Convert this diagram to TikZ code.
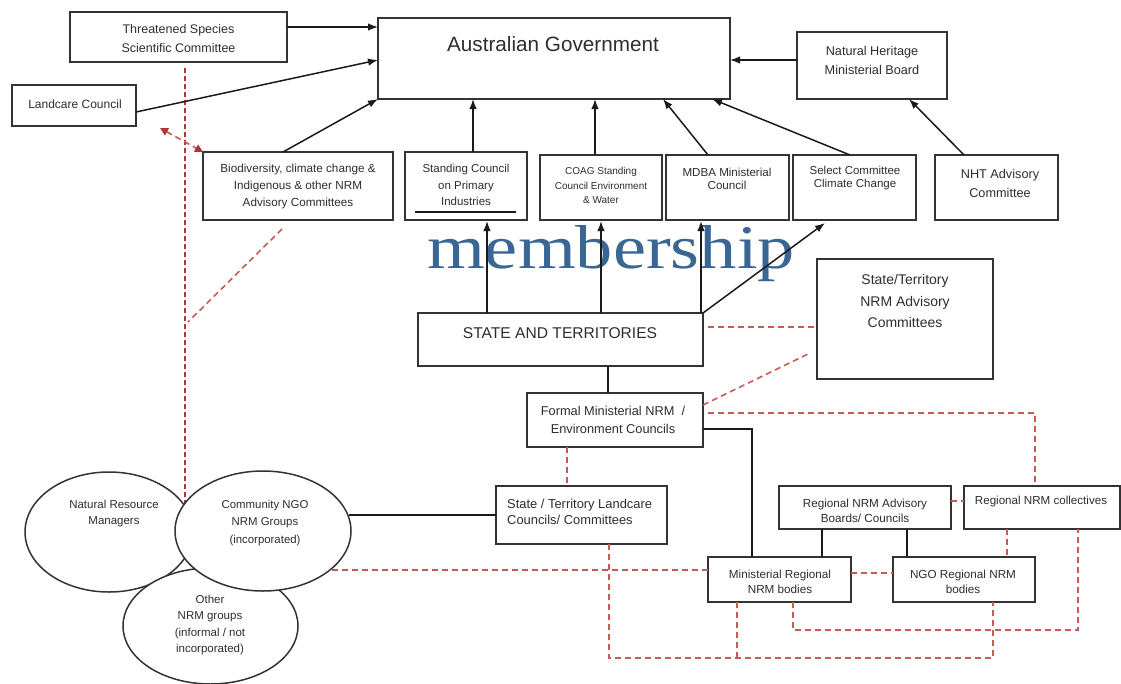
\documentclass[tikz,border=0pt]{standalone}
\usepackage{fontspec}
\setmainfont{Liberation Sans}
\newfontfamily\memfont{Liberation Serif}
\usetikzlibrary{shapes.geometric,arrows.meta,calc}
\definecolor{linec}{HTML}{1A1A1A}
\definecolor{boxc}{HTML}{333333}
\definecolor{txtc}{HTML}{2E2E2E}
\definecolor{redc}{HTML}{C85A55}
\definecolor{redd}{HTML}{B03535}
\definecolor{memblue}{HTML}{3A6694}
\begin{document}
\begin{tikzpicture}[x=1pt,y=-1pt,
  box/.style={draw=boxc, line width=1.6pt, fill=white, inner sep=0pt, outer sep=0pt, anchor=north west},
  ell/.style={ellipse, draw=boxc, line width=1.5pt, fill=white, inner sep=0pt, outer sep=0pt},
  t/.style 2 args={inner sep=0pt, align=center, text=txtc, font=\fontsize{#1}{#2}\selectfont},
  arr/.style={draw=linec, line width=1.5pt, -{Latex[length=10pt,width=7.5pt]}},
  ln/.style={draw=linec, line width=1.5pt},
  rd/.style={draw=redc, line width=1.6pt, dash pattern=on 6pt off 4pt},
  rdv/.style={draw=redd, line width=1.4pt, dash pattern=on 4.5pt off 3.5pt}
]
\useasboundingbox (0,0) rectangle (1121,683);
\fill[white] (0,0) rectangle (1121,683);

% membership label (behind arrows)
\node[inner sep=0pt, anchor=base, text=memblue, font=\memfont\fontsize{62}{62}\selectfont] (memb) at (611,268) {\scalebox{1.2}[1]{membership}};

% boxes
\node[box, minimum width=217pt, minimum height=50pt] (tssc) at (70,12) {};
\node[box, minimum width=124pt, minimum height=41pt] (lcc) at (12,85) {};
\node[box, minimum width=352pt, minimum height=81pt] (ag) at (378,18) {};
\node[box, minimum width=150pt, minimum height=67pt] (nhmb) at (797,32) {};
\node[box, minimum width=190pt, minimum height=68pt] (bio) at (203,152) {};
\node[box, minimum width=122pt, minimum height=68pt] (scpi) at (405,152) {};
\node[box, minimum width=122pt, minimum height=65pt] (coag) at (540,155) {};
\node[box, minimum width=123pt, minimum height=65pt] (mdba) at (666,155) {};
\node[box, minimum width=123pt, minimum height=65pt] (scc) at (793,155) {};
\node[box, minimum width=123pt, minimum height=65pt] (nht) at (935,155) {};
\node[box, minimum width=285pt, minimum height=53pt] (st) at (418,313) {};
\node[box, minimum width=176pt, minimum height=120pt] (stnrm) at (817,259) {};
\node[box, minimum width=176pt, minimum height=54pt] (fm) at (527,393) {};
\node[box, minimum width=171pt, minimum height=58pt] (stl) at (496,486) {};
\node[box, minimum width=172pt, minimum height=43pt] (rnab) at (779,486) {};
\node[box, minimum width=156pt, minimum height=43pt] (rnc) at (964,486) {};
\node[box, minimum width=143pt, minimum height=45pt] (mrb) at (708,557) {};
\node[box, minimum width=142pt, minimum height=45pt] (ngo) at (893,557) {};

% red dashed lines ending on the ellipses (drawn before them)
\draw[rdv] ($(tssc.south)+(6.5,6)$) -- ++(0,435);
\draw[rd] ($(mrb.west)+(0,-9.5)$) -- ++(-378,0);

% ellipses
\node[ell, minimum width=168pt, minimum height=120pt] (nrm) at (109,532) {};
\node[ell, minimum width=175pt, minimum height=116pt] (other) at (210.5,626) {};
\node[ell, minimum width=176pt, minimum height=120pt] (cngo) at (263,531) {};

% texts
\node[t={12.5}{19}] (tssc-t) at (178.5,38.5) {Threatened Species\\Scientific Committee};
\node[t={12}{14}] (lcc-t) at (75,104) {Landcare Council};
\node[t={20.7}{24}] (ag-t) at (553,44) {Australian Government};
\node[t={12.7}{19}] (nhmb-t) at (872,60) {Natural Heritage\\Ministerial Board};
\node[t={11.7}{17}] (bio-t) at (298,186) {Biodiversity, climate change \&\\Indigenous \& other NRM\\Advisory Committees};
\node[t={11.5}{16.5}] (scpi-t) at (466,185) {Standing Council\\on Primary\\Industries};
\node[t={10}{14.5}] (coag-t) at (601,185.5) {COAG Standing\\Council Environment\\\& Water};
\node[t={11.6}{13}] (mdba-t) at (727,178.5) {MDBA Ministerial\\Council};
\node[t={11.5}{13}] (scc-t) at (855,178.5) {Select Committee\\Climate Change};
\node[t={12.7}{19}] (nht-t) at (1000,183.5) {NHT Advisory\\Committee};
\node[t={15.6}{18}] (st-t) at (560,333) {STATE AND TERRITORIES};
\node[t={14}{21.5}] (stnrm-t) at (905,301) {State/Territory\\NRM Advisory\\Committees};
\node[t={12.8}{18}] (fm-t) at (613,420) {Formal Ministerial NRM \ /\\Environment Councils};
\node[t={12.9}{16}, align=left, anchor=west] (stl-t) at (507,512) {State / Territory Landcare\\Councils/ Committees};
\node[t={11.7}{15}] (rnab-t) at (865,510.5) {Regional NRM Advisory\\Boards/ Councils};
\node[t={11.6}{14}] (rnc-t) at (1041,501) {Regional NRM collectives};
\node[t={11.7}{15}] (mrb-t) at (780,581.5) {Ministerial Regional\\NRM bodies};
\node[t={11.7}{15}] (ngo-t) at (963,581.5) {NGO Regional NRM\\bodies};
\node[t={11.5}{16}] (nrm-t) at (114,514) {Natural Resource\\Managers};
\node[t={11.4}{17.5}] (cngo-t) at (265,523) {Community NGO\\NRM Groups\\(incorporated)};
\node[t={11.5}{16.5}] (other-t) at (210,625) {Other\\NRM groups\\(informal / not\\incorporated)};

% underline in Standing Council box
\draw[ln] ($(scpi.south west)+(10,-8)$) -- ++(101,0);

% solid arrows into Australian Government
\draw[arr] ($(tssc.north east)+(0,15)$) -- ++(91,0);
\draw[arr] ($(lcc.south east)+(0,-14)$) -- ($(ag.north west)+(0,42)$);
\draw[arr] ($(bio.north west)+(80,0)$) -- (ag.south west);
\draw[arr] ($(scpi.north)+(7,0)$) -- ++(0,-53);
\draw[arr] ($(coag.north)+(-6,0)$) -- ++(0,-56);
\draw[arr] ($(mdba.north)+(-19.5,0)$) -- ($(ag.south east)+(-67,0)$);
\draw[arr] ($(scc.north)+(-4.5,0)$) -- ($(ag.south east)+(-18,0)$);
\draw[arr] ($(nhmb.west)+(0,-5.5)$) -- ++(-67,0);
\draw[arr] ($(nht.north)+(-32.5,0)$) -- ($(nhmb.south)+(37,0)$);

% arrows from States and Territories
\draw[arr] ($(st.north west)+(69,0)$) -- ++(0,-92);
\draw[arr] ($(st.north)+(40.5,0)$) -- ++(0,-92);
\draw[arr] ($(st.north east)+(-2,0)$) -- ++(0,-92);
\draw[arr] (st.north east) -- ($(scc.south)+(-29.5,3)$);

% solid lines
\draw[ln] ($(fm.north)+(-7,0)$) -- ++(0,-27);
\draw[ln] ($(fm.east)+(0,9)$) -| ($(mrb.north west)+(44,0)$);
\draw[ln] (stl.west) -- ++(-147,0);
\draw[ln] ($(rnab.south)+(-43,0)$) -- ++(0,28);
\draw[ln] ($(rnab.south)+(42,0)$) -- ++(0,28);

% red dashed relations
\draw[rd, {Triangle[length=8pt,width=8pt,fill=redd,color=redd]}-{Triangle[length=8pt,width=8pt,fill=redd,color=redd]}] ($(bio.north west)+(-43,-24)$) -- (bio.north west);
\draw[rd] ($(bio.south)+(-16,9)$) -- ++(-94,93);
\draw[rd] ($(st.east)+(5,-12.5)$) -- ++(109,0);
\draw[rd] ($(fm.north east)+(0,12)$) -- ++(105,-51);
\draw[rd] ($(fm.east)+(5,-7)$) -| ($(rnc.north)+(-7,0)$);
\draw[rd] ($(fm.south)+(-48,0)$) -- ++(0,39);
\draw[rd] ($(stl.south)+(27.5,0)$) -- ++(0,114) -| ($(ngo.south)+(29,0)$);
\draw[rd] ($(mrb.south)+(-42.5,0)$) -- ++(0,56);
\draw[rd] ($(mrb.south)+(13.5,0)$) -- ++(0,28) -| ($(rnc.south)+(36,0)$);
\draw[rd] ($(mrb.east)+(0,-6.5)$) -- ++(42,0);
\draw[rd] ($(rnab.east)+(0,-6.5)$) -- ++(13,0);
\draw[rd] ($(rnc.south)+(-35,0)$) -- ++(0,28);
\end{tikzpicture}
\end{document}
